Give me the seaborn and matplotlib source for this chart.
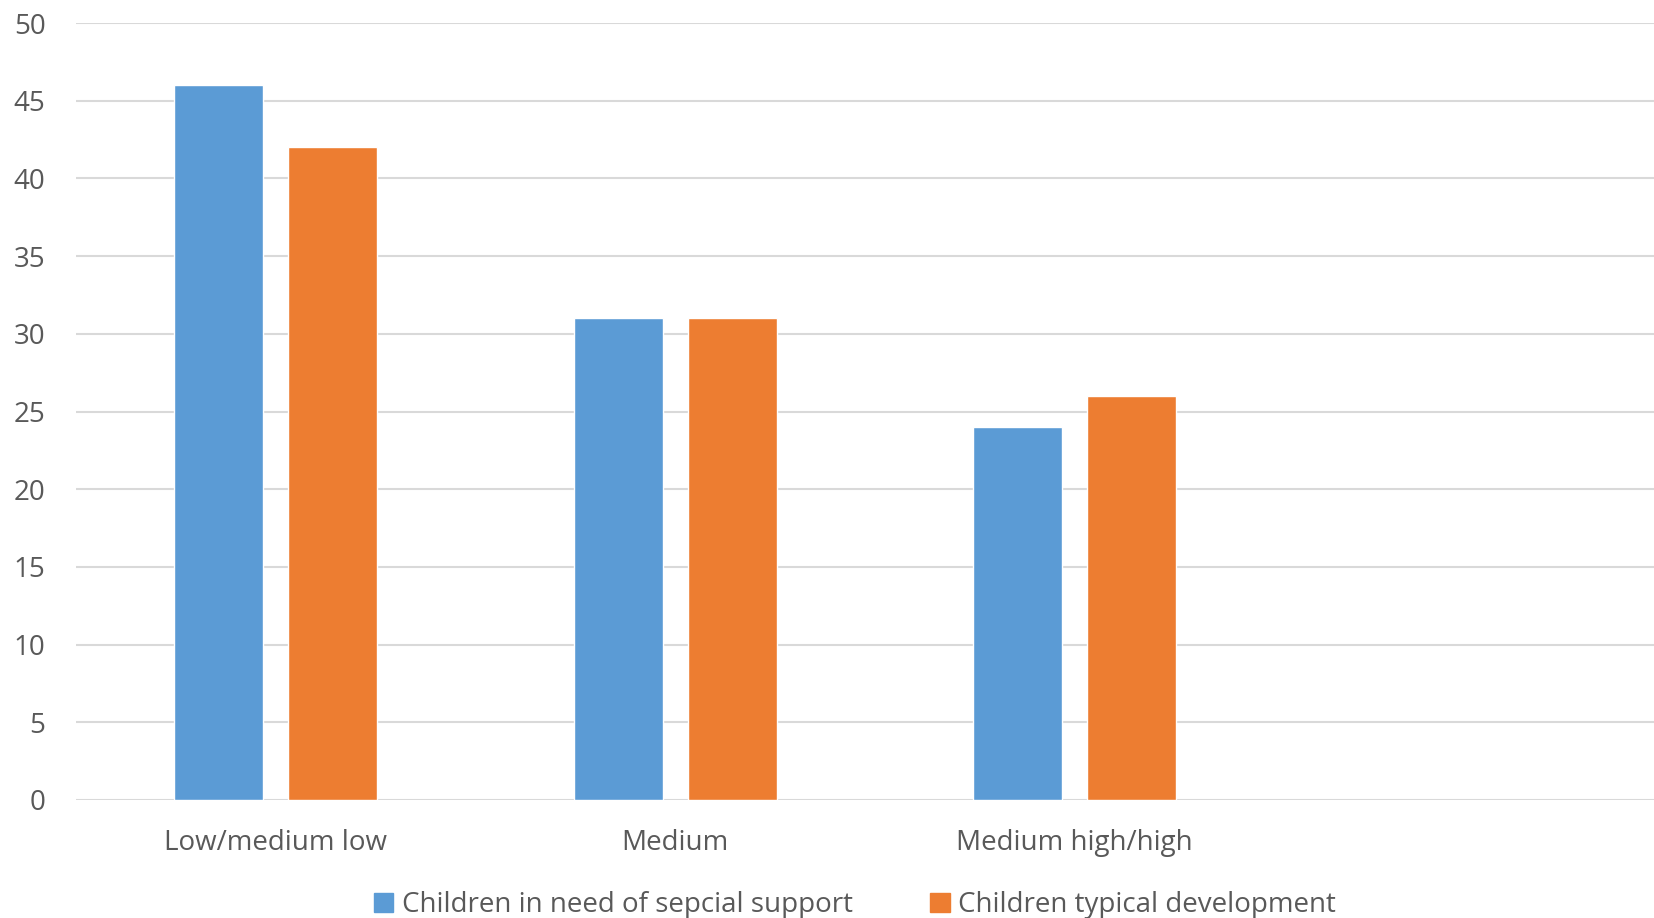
import matplotlib
matplotlib.use("Agg")
import matplotlib.pyplot as plt
import seaborn as sns
import pandas as pd

categories = ["Low/medium low", "Medium", "Medium high/high"]
special_support = [46, 31, 24]
typical_development = [42, 31, 26]
series_names = ["Children in need of sepcial support", "Children typical development"]
yticks = [0, 5, 10, 15, 20, 25, 30, 35, 40, 45, 50]

df = pd.DataFrame({
    "category": categories * 2,
    "value": special_support + typical_development,
    "series": [series_names[0]] * 3 + [series_names[1]] * 3,
})

sns.set_theme(style="white")
plt.rcParams["font.family"] = ["Open Sans", "DejaVu Sans"]
text_color = "#595959"

fig = plt.figure(figsize=(16.54, 9.18), dpi=100)
ax = fig.add_axes([76 / 1654, 1 - 800 / 918, 1598 / 1654, 777 / 918])

# a fourth, empty slot keeps the category spacing of the original workbook chart
order = categories + [" "]
sns.barplot(data=df, x="category", y="value", hue="series", order=order,
            hue_order=series_names, palette=["#5B9BD5", "#ED7D31"],
            width=0.571, gap=0.22, saturation=1, ax=ax, legend=False)

ax.set_ylim(0, 50)
ax.set_xlim(-0.5, 3.5)
ax.set_yticks(yticks)
ax.yaxis.grid(True, color="#d9d9d9", linewidth=1.5)
ax.set_axisbelow(True)
for s in ax.spines.values():
    s.set_visible(False)
ax.set_xlabel("")
ax.set_ylabel("")
ax.tick_params(axis="y", length=0, pad=22, labelsize=20, labelcolor=text_color)
ax.tick_params(axis="x", length=0, pad=21, labelsize=20, labelcolor=text_color)
ax.set_xticks(range(len(order)))
ax.set_xticklabels(order)

handles = [plt.Rectangle((0, 0), 1, 1, color=c) for c in ["#5B9BD5", "#ED7D31"]]
fig.legend(handles, series_names, loc="center", bbox_to_anchor=(855 / 1654, 1 - 905 / 918),
           ncol=2, frameon=False, fontsize=20, labelcolor=text_color,
           handlelength=0.7, handleheight=0.7, handletextpad=0.3, columnspacing=2.8)

fig.savefig("out.png", dpi=100)
